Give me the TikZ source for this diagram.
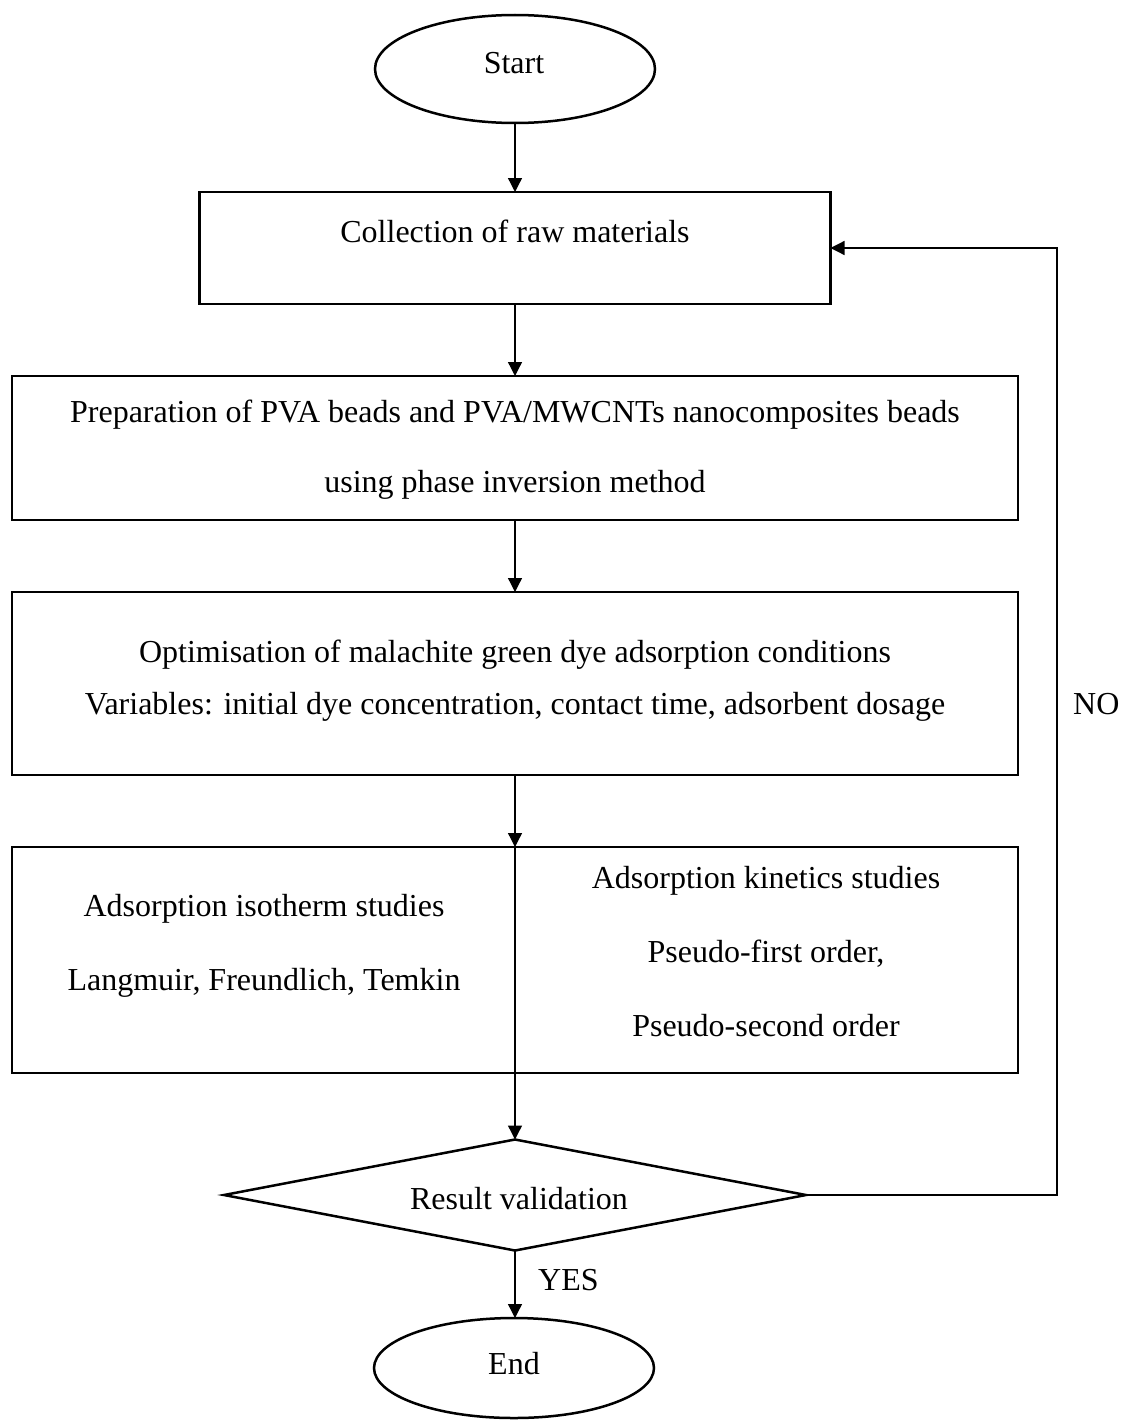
\documentclass[tikz,border=0pt]{standalone}
\usepackage{fontspec}
\setmainfont{Liberation Serif}
\usetikzlibrary{arrows.meta,shapes.geometric}
\begin{document}
\begin{tikzpicture}[x=1pt,y=-1pt,
  box/.style={draw, line width=2.5pt, inner sep=0pt, outer sep=0pt},
  oval/.style={draw, ellipse, line width=2.5pt, inner sep=0pt, outer sep=0pt},
  txt/.style={font=\fontsize{32}{38}\selectfont, inner sep=0pt, anchor=base},
  conn/.style={line width=1.3pt, -{Triangle[width=14pt,length=14pt]}},
  plain/.style={line width=1.3pt}]
\useasboundingbox (0,0) rectangle (1125,1421);

% shapes
\node[oval, minimum width=280pt, minimum height=108pt] (start) at (515,69) {};
\node[box, minimum width=631pt, minimum height=112pt] (b1) at (515,248) {};
\node[box, minimum width=1006pt, minimum height=144pt] (b2) at (515,448) {};
\node[box, minimum width=1006pt, minimum height=183pt] (b3) at (515,683.5) {};
\node[box, minimum width=1006pt, minimum height=226pt] (b4) at (515,960) {};
\node[draw, diamond, line width=2.5pt, inner sep=0pt, outer sep=0pt,
      minimum width=582pt, minimum height=111pt] (dia) at (515,1195) {};
\node[oval, minimum width=280pt, minimum height=100pt] (end) at (514,1368) {};

% divider of the split box
\draw[line width=2.5pt] (b4.north) -- (b4.south);

% texts
\node[txt] (tstart) at (514,74) {Start};
\node[txt] (t1) at (515,242) {Collection of raw materials};
\node[txt] (t2a) at (515,422) {Preparation of PVA beads and PVA/MWCNTs nanocomposites beads};
\node[txt] (t2b) at (515,492) {using phase inversion method};
\node[txt] (t3a) at (515,662) {Optimisation of malachite green dye adsorption conditions};
\node[txt] (t3b) at (515,714) {Variables: initial dye concentration, contact time, adsorbent dosage};
\node[txt] (t4a) at (264,916) {Adsorption isotherm studies};
\node[txt] (t4b) at (264,990) {Langmuir, Freundlich, Temkin};
\node[txt] (t4c) at (766,888) {Adsorption kinetics studies};
\node[txt] (t4d) at (766,962) {Pseudo-first order,};
\node[txt] (t4e) at (766,1036) {Pseudo-second order};
\node[txt] (tdia) at (519,1209) {Result validation};
\node[txt] (tend) at (514,1374) {End};
\node[txt, anchor=base west] (no) at (1073,714) {NO};
\node[txt, anchor=base west] (yes) at (538,1290) {YES};

% connectors
\draw[conn] (start.south) -- (b1.north);
\draw[conn] (b1.south) -- (b2.north);
\draw[conn] (b2.south) -- (b3.north);
\draw[conn] (b3.south) -- (b4.north);
\draw[conn] (b4.south) -- (dia.north);
\draw[conn] (dia.south) -- (dia.south |- end.north);
\coordinate (lp) at (1057,1195);
\draw[conn] (dia.east) -- (lp) |- (b1.east);
\end{tikzpicture}
\end{document}
